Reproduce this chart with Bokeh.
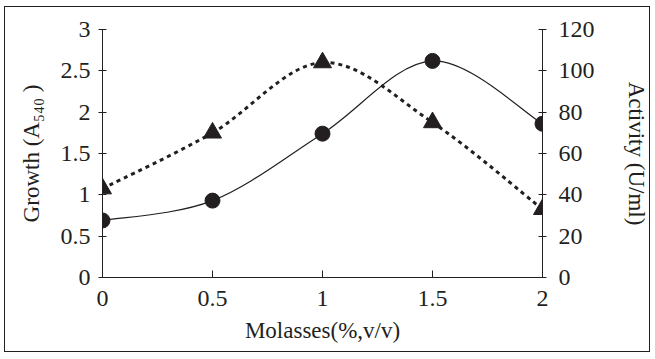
from bokeh.plotting import figure
from bokeh.models import Range1d, LinearAxis, FixedTicker
from bokeh.embed import file_html
from bokeh.resources import INLINE

molasses = [0, 0.5, 1, 1.5, 2]
growth = [0.69, 0.93, 1.74, 2.62, 1.86]
activity = [43, 70, 104, 75, 33]
x_ticks = [0, 0.5, 1, 1.5, 2]
left_ticks = [0, 0.5, 1, 1.5, 2, 2.5, 3]
right_ticks = [0, 20, 40, 60, 80, 100, 120]

FONT = "Liberation Serif"
INK = "#231f20"
W, H = 646, 346


def smooth_segments(xs, ys):
    n = len(xs)
    out = dict(x0=[], y0=[], x1=[], y1=[], cx0=[], cy0=[], cx1=[], cy1=[])
    for i in range(n - 1):
        pm = max(i - 1, 0)
        pp = min(i + 2, n - 1)
        out["x0"].append(xs[i]); out["y0"].append(ys[i])
        out["x1"].append(xs[i + 1]); out["y1"].append(ys[i + 1])
        out["cx0"].append(xs[i] + (xs[i + 1] - xs[pm]) / 6)
        out["cy0"].append(ys[i] + (ys[i + 1] - ys[pm]) / 6)
        out["cx1"].append(xs[i + 1] - (xs[pp] - xs[i]) / 6)
        out["cy1"].append(ys[i + 1] - (ys[pp] - ys[i]) / 6)
    return out


p = figure(width=W, height=H, output_backend="svg", toolbar_location=None,
           x_range=Range1d(0, 2), y_range=Range1d(0, 3),
           min_border_left=97, min_border_right=103, min_border_top=22, min_border_bottom=76)
p.extra_y_ranges = {"act": Range1d(0, 120)}
p.outline_line_color = None
p.xgrid.visible = False
p.ygrid.visible = False
p.background_fill_color = "white"
p.border_fill_color = "white"
p.styles = {"border": "1px solid #231f20", "margin": "6px 0 0 4px"}

# growth (solid, circles)
sg = smooth_segments(molasses, growth)
p.bezier(line_color=INK, line_width=1.2, **sg)
p.scatter(molasses, growth, marker="circle", size=15, fill_color=INK, line_color=INK)

# activity (dashed, triangles)
sa = smooth_segments(molasses, activity)
p.bezier(line_color=INK, line_width=3, line_dash="4 4", y_range_name="act", **sa)
p.scatter(molasses, activity, marker="triangle", size=18, fill_color=INK, line_color=INK,
          y_range_name="act")

right = LinearAxis(y_range_name="act")
p.add_layout(right, "right")

for ax in [p.xaxis[0], p.yaxis[0], right]:
    ax.axis_line_color = INK
    ax.major_tick_line_color = INK
    ax.minor_tick_line_color = None
    ax.major_label_text_font = FONT
    ax.major_label_text_font_size = "24px"
    ax.major_label_text_color = INK
    ax.axis_label_text_font = FONT
    ax.axis_label_text_font_size = "23px"
    ax.axis_label_text_font_style = "normal"
    ax.axis_label_text_color = INK

p.xaxis[0].ticker = FixedTicker(ticks=x_ticks)
p.xaxis[0].major_tick_in = 7
p.xaxis[0].major_tick_out = 0
p.xaxis[0].major_label_standoff = 13
p.xaxis[0].axis_label = "Molasses(%,v/v)"
p.xaxis[0].axis_label_standoff = 9

p.yaxis[0].ticker = FixedTicker(ticks=left_ticks)
p.yaxis[0].major_tick_in = 4
p.yaxis[0].major_tick_out = 4
p.yaxis[0].major_label_standoff = 8
p.yaxis[0].axis_label = "Growth (A\u2085\u2084\u2080 )"
p.yaxis[0].axis_label_standoff = 14

right.ticker = FixedTicker(ticks=right_ticks)
right.major_tick_in = 4
right.major_tick_out = 4
right.major_label_standoff = 12
right.axis_label = "Activity (U/ml)"
right.axis_label_standoff = 26

open("out.html", "w").write(file_html(p, INLINE))
